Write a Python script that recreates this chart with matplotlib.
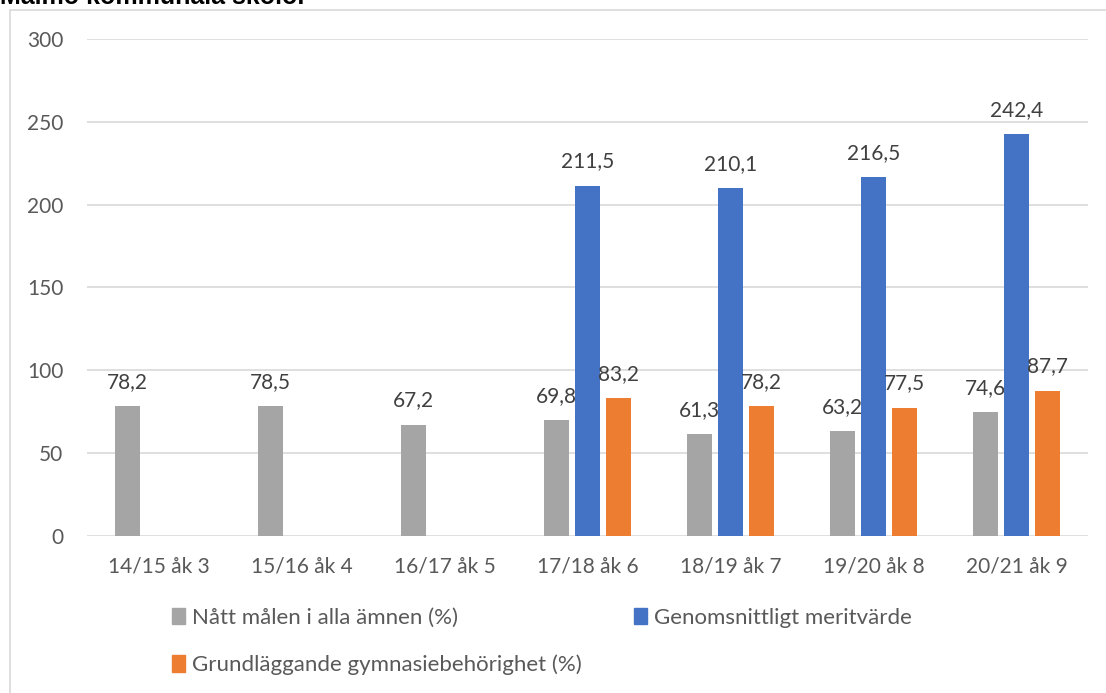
import numpy as np
import matplotlib.pyplot as plt
from matplotlib.patches import Rectangle, Patch

categories = ['14/15 åk 3', '15/16 åk 4', '16/17 åk 5', '17/18 åk 6',
              '18/19 åk 7', '19/20 åk 8', '20/21 åk 9']
natt_malen = [78.2, 78.5, 67.2, 69.8, 61.3, 63.2, 74.6]
meritvarde = [np.nan, np.nan, np.nan, 211.5, 210.1, 216.5, 242.4]
gymnasie = [np.nan, np.nan, np.nan, 83.2, 78.2, 77.5, 87.7]

series = [
    ('Nått målen i alla ämnen (%)', natt_malen, '#a5a5a5'),
    ('Genomsnittligt meritvärde', meritvarde, '#4472c4'),
    ('Grundläggande gymnasiebehörighet (%)', gymnasie, '#ed7d31'),
]

plt.rcParams['font.family'] = ['Lato', 'DejaVu Sans']
TXT = '#595959'

fig = plt.figure(figsize=(11.06, 6.93), dpi=100)
ax = fig.add_axes([0.0787, 0.2266, 0.905, 0.7171])

# outer chart frame, partly outside the picture
fig.patches.append(Rectangle((10 / 1106, -0.1), 1.2, 1 - 10 / 693 + 0.1,
                             transform=fig.transFigure, fill=False,
                             edgecolor='#d9d9d9', linewidth=1.2))
fig.text(0.0, 1 - 4 / 693, 'Malmö kommunala skolor', fontsize=18,
         fontweight='bold', family='Liberation Sans', va='baseline')

x = np.arange(len(categories))
width = 0.175
offsets = [-0.217, 0.0, 0.217]
for (name, vals, color), off in zip(series, offsets):
    ax.bar(x + off, vals, width, color=color, label=name, zorder=3)
    for xi, v in zip(x + off, vals):
        if not np.isnan(v):
            ax.text(xi, v + 11, f'{v:.1f}'.replace('.', ','), ha='center',
                    va='baseline', fontsize=15, color='#404040')

ax.set_xlim(-0.5, len(categories) - 0.5)
ax.set_ylim(0, 300)
ax.set_yticks(range(0, 301, 50))
ax.set_xticks(x)
ax.set_xticklabels(categories)
ax.yaxis.grid(True, color='#d9d9d9', linewidth=1.2, zorder=0)
ax.tick_params(axis='both', length=0, labelsize=15, labelcolor=TXT)
ax.tick_params(axis='y', pad=17)
ax.tick_params(axis='x', pad=15)
for s in ax.spines.values():
    s.set_visible(False)

handles = [Patch(color=c) for _, _, c in series]
labels = [n for n, _, _ in series]
order = [0, 2, 1]
fig.legend([handles[i] for i in order], [labels[i] for i in order],
           ncol=2, loc='upper left', bbox_to_anchor=(152 / 1106, 1 - 588 / 693),
           frameon=False, fontsize=16, handlelength=0.6, handleheight=0.75,
           handletextpad=0.3, columnspacing=2.35, labelspacing=1.2,
           labelcolor=TXT)

fig.savefig('out.png', dpi=100)
